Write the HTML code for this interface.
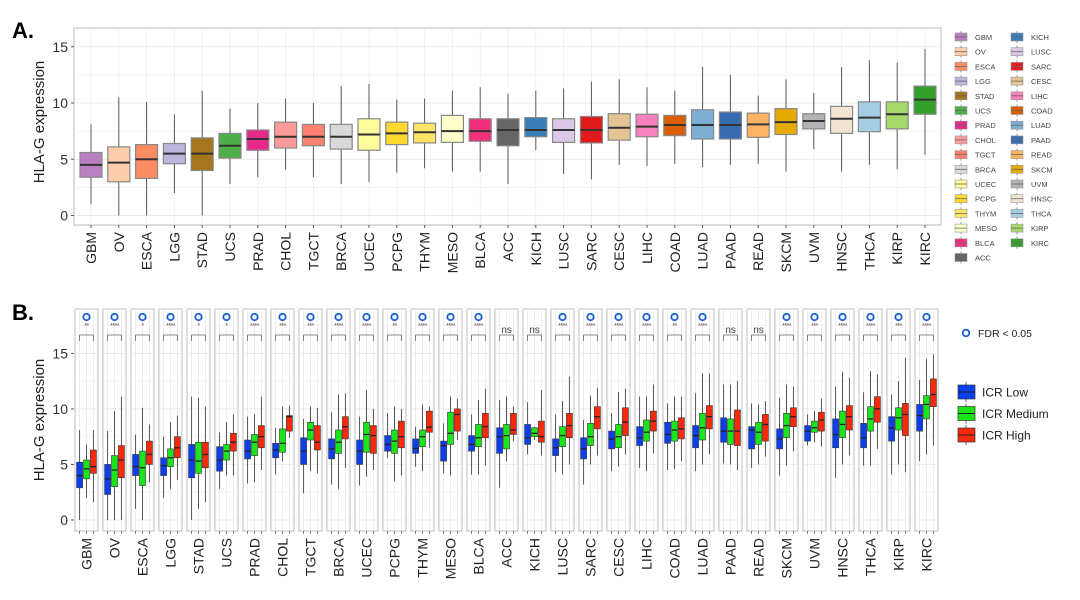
<!DOCTYPE html>
<html><head><meta charset="utf-8">
<style>
html,body{margin:0;padding:0;background:#fff;width:1080px;height:600px;overflow:hidden;font-family:"Liberation Sans",sans-serif;}
svg text{font-family:"Liberation Sans",sans-serif;}
</style></head>
<body>
<svg id="chart" width="1080" height="600" viewBox="0 0 1080 600">
<text x="12" y="38" font-size="22" font-weight="bold" fill="#000">A.</text>
<text x="12" y="320" font-size="22" font-weight="bold" fill="#000">B.</text>
<text transform="translate(44,122) rotate(-90)" text-anchor="middle" font-size="15" fill="#222">HLA-G expression</text>
<text transform="translate(44,420) rotate(-90)" text-anchor="middle" font-size="15" fill="#222">HLA-G expression</text>
<g id="gA"></g>
<g id="gB"></g>
<g id="legA"></g>
<g id="legB"></g>
</svg>
<script>
const categories = ["GBM","OV","ESCA","LGG","STAD","UCS","PRAD","CHOL","TGCT","BRCA","UCEC","PCPG","THYM","MESO","BLCA","ACC","KICH","LUSC","SARC","CESC","LIHC","COAD","LUAD","PAAD","READ","SKCM","UVM","HNSC","THCA","KIRP","KIRC"];
const catColors = ["#b97fc1","#fdcdac","#fc8d62","#bcb6dd","#a6761d","#4daf4a","#e7298a","#fb9a99","#fb8072","#d9d9d9","#fffa9c","#ffd92f","#ffe566","#ffffcc","#f0307a","#666666","#377eb8","#dcc8e6","#e31a1c","#e5c494","#f781bf","#d95f02","#7bafd4","#386cb0","#fdb462","#e6ab02","#b3b3b3","#f2e4d0","#a6cee3","#a6d96a","#33a02c"];
// panel A: [min, q1, median, q3, max]
const overallStats = [[1,3.4,4.5,5.6,8.1],[0,3.0,4.7,6.1,10.5],[0,3.3,5.0,6.3,10.1],[2,4.6,5.5,6.4,9.0],[0,4.0,5.5,6.9,11.1],[2.8,5.1,6.2,7.3,9.5],[3.4,5.8,6.8,7.6,10.0],[4.1,6.0,7.0,8.3,10.4],[3.4,6.2,7.0,8.1,10.0],[2.8,5.9,7.0,8.1,11.5],[3.0,5.8,7.2,8.6,11.7],[3.8,6.3,7.3,8.3,10.3],[4.2,6.45,7.4,8.2,10.4],[3.9,6.5,7.5,8.9,11.1],[3.9,6.6,7.5,8.6,11.4],[2.8,6.2,7.6,8.6,10.8],[5.8,7.0,7.6,8.7,11.1],[3.7,6.5,7.6,8.6,11.3],[3.2,6.45,7.6,8.8,11.9],[4.5,6.7,7.8,9.05,12.1],[4.4,7.0,7.9,9.0,11.4],[4.6,7.1,8.05,8.9,11.1],[4.3,6.8,8.05,9.4,13.2],[4.5,6.8,8.05,9.2,12.5],[4.6,6.95,8.1,9.1,10.65],[3.9,7.2,8.3,9.5,12.1],[5.9,7.7,8.4,9.05,10.9],[3.9,7.3,8.6,9.7,13.2],[4.5,7.45,8.7,10.1,13.8],[4.1,7.7,9.0,10.1,13.6],[5.4,9.0,10.3,11.5,14.8]];
// panel B groups
const icrLow = [[0,2.9,4.0,5.2,8.1],[0,2.3,3.7,5.0,8.0],[1,4.0,4.8,5.9,7.7],[2,4.0,4.9,5.6,7.5],[0,3.8,5.4,6.8,11.1],[2.8,4.4,5.4,6.6,7.9],[3.3,5.5,6.2,7.2,9.3],[4.1,5.6,6.3,6.9,8.3],[2.4,5.0,6.2,7.4,9.1],[3.2,5.5,6.4,7.3,9.7],[3.1,5.0,6.2,7.2,9.3],[5.6,6.2,6.8,7.6,9.6],[4.8,6.0,6.45,7.3,8.4],[4.2,5.3,6.7,7.1,8.7],[4.1,6.2,6.8,7.6,9.5],[2.9,6.0,7.5,8.3,10.8],[5.9,6.8,7.4,8.6,10.6],[4.3,5.8,6.5,7.3,9.5],[3.2,5.5,6.4,7.4,9.0],[4.4,6.4,7.3,8.0,9.6],[4.7,6.7,7.4,8.4,11.1],[4.5,6.9,7.7,8.8,10.5],[4.4,6.5,7.6,8.5,11.4],[5.1,7.0,8.0,9.2,12.2],[4.7,6.4,8.1,8.4,10.5],[4.0,6.4,7.3,8.2,11.0],[6.7,7.1,8.0,8.5,9.5],[3.8,6.5,7.7,9.1,12.0],[4.9,6.5,7.4,8.7,11.5],[4.1,7.1,8.3,9.3,11.3],[5.3,8.0,9.4,10.4,12.6]];
const icrMedium = [[2,3.7,4.6,5.4,6.8],[0,3.0,4.5,5.8,9.8],[0,3.1,4.7,6.2,10.1],[2.8,4.8,5.6,6.4,8.8],[1,4.2,5.3,7.0,11],[4,5.4,6.2,6.8,8.8],[3.4,5.8,7.0,7.7,9.5],[5.3,6.1,6.9,8.2,10.2],[4.4,7.2,8.1,8.8,10.2],[2.8,6.0,7.0,8.1,11.3],[3.9,6.1,7.7,8.8,11.7],[3.5,6.0,7.1,8.1,10.2],[4.4,6.6,7.5,8.1,10.4],[4.0,6.8,7.8,9.7,11.1],[4.1,6.6,7.4,8.6,10.8],[5.3,6.4,7.6,8.6,11.1],[7.2,7.5,7.8,8.3,8.4],[4.1,6.6,7.6,8.4,10.7],[5.0,6.7,7.5,8.7,11.2],[4.8,6.5,7.5,8.6,11.5],[4.4,7.1,7.9,9.0,11.1],[4.6,7.1,8.1,8.9,11.1],[5.0,7.2,8.3,9.6,13.2],[5.0,6.8,8.0,9.1,12.2],[5.0,6.8,7.9,8.8,10.4],[4.9,7.4,8.5,9.6,12.2],[7.0,7.9,8.3,8.9,9.8],[5.0,7.4,8.6,9.8,13.3],[4.9,8.0,9.1,10.2,13.4],[5.0,8.1,9.2,10.1,12.5],[5.9,9.1,10.4,11.2,14.5]];
const icrHigh = [[1.6,4.2,4.8,6.3,8.1],[0,3.8,5.4,6.7,11.1],[3.4,5.0,5.9,7.1,8.6],[3.6,5.6,6.5,7.5,9.4],[1.6,4.7,5.9,7.0,10.2],[4,6.2,7.0,7.8,9.5],[4.5,6.5,7.5,8.5,11.1],[7.4,8.0,9.3,9.4,10.3],[4.2,6.3,7.0,8.5,10.1],[4.7,7.3,8.4,9.3,11.4],[4.5,6.0,7.6,8.5,10.0],[4.0,6.5,7.5,8.9,10.0],[6.5,7.9,8.35,9.8,10.2],[7.2,8.0,9.5,10.0,10.9],[4.9,7.4,8.4,9.6,11.8],[7.1,7.7,8.1,9.6,10.2],[5.8,7.0,7.5,8.9,11.7],[5.0,7.4,8.5,9.6,12.9],[5.8,8.2,9.3,10.2,11.9],[5.9,7.6,8.8,10.1,11.8],[6.0,8.0,8.9,9.8,12.2],[5.3,7.3,8.2,9.2,11.1],[5.9,8.2,9.3,10.3,13.2],[4.5,6.7,8.0,9.9,12.5],[5.7,7.1,8.6,9.5,10.7],[6.2,8.4,9.3,10.1,12.0],[6.6,8.0,9.0,9.7,10.9],[5.8,8.1,9.3,10.3,12.8],[6.4,8.8,10.0,11.1,13.1],[4.3,7.6,9.5,10.5,14.6],[6.7,10.2,11.3,12.7,14.9]];
const signifLabels = ["**","****","*","****","*","*","****","***","***","****","****","**","****","****","****","ns","ns","****","****","****","****","**","****","ns","ns","****","***","****","****","***","****"];
const yTicks = [0,5,10,15];
const groupNames = ["ICR Low","ICR Medium","ICR High"];
const groupColors = ["#0a3ff0","#19e619","#f52a0a"];

const NS="http://www.w3.org/2000/svg";
function mk(tag,attrs,parent){const e=document.createElementNS(NS,tag);for(const k in attrs)e.setAttribute(k,attrs[k]);parent.appendChild(e);return e;}

// Panel A
const gA=document.getElementById('gA');
const A={x0:74,x1:941,y0:28,y1:225};
const yA=v=>215.5-v*11.25;
const xA=i=>91+i*27.8;
mk('rect',{x:A.x0,y:A.y0,width:A.x1-A.x0,height:A.y1-A.y0,fill:'#fff',stroke:'#b8b8c0','stroke-width':1},gA);
for(let v=2.5;v<=15;v+=5){mk('line',{x1:A.x0,x2:A.x1,y1:yA(v),y2:yA(v),stroke:'#f0f0f0','stroke-width':0.7},gA);}
yTicks.forEach(v=>{
 const l=mk('line',{x1:A.x0,x2:A.x1,y1:yA(v),y2:yA(v),stroke:'#e6e6e6','stroke-width':0.8},gA);
 
 
 mk('line',{x1:A.x0-3,x2:A.x0,y1:yA(v),y2:yA(v),stroke:'#555'},gA);
 const t=mk('text',{x:A.x0-6,y:yA(v)+5,'text-anchor':'end','font-size':14,fill:'#333'},gA);t.textContent=v;
 
 
});
categories.forEach((c,i)=>{
 const x=xA(i),s=overallStats[i],w=22;
 mk('line',{x1:x,x2:x,y1:A.y0,y2:A.y1,stroke:'#ececec','stroke-width':0.7},gA);
 const g=mk('g',{},gA);
 
 
 mk('line',{x1:x,x2:x,y1:yA(s[0]),y2:yA(s[4]),stroke:'#555','stroke-width':1},g);
 mk('rect',{x:x-w/2,y:yA(s[3]),width:w,height:yA(s[1])-yA(s[3]),fill:catColors[i],stroke:'#888','stroke-width':1.2},g);
 mk('line',{x1:x-w/2,x2:x+w/2,y1:yA(s[2]),y2:yA(s[2]),stroke:'#333','stroke-width':2},g);
 mk('line',{x1:x,x2:x,y1:A.y1,y2:A.y1+3,stroke:'#555'},gA);
 const t=mk('text',{transform:`translate(${x+5},${A.y1+7}) rotate(-90)`,'text-anchor':'end','font-size':14,fill:'#222'},gA);t.textContent=c;
 
 
});

// Legend A
const legA=document.getElementById('legA');
categories.forEach((c,i)=>{
 const col=i<16?0:1,row=i<16?i:i-16;
 const x=955+col*56,y=37+row*14.7;
 const g=mk('g',{},legA);
 
 
 mk('line',{x1:x+6,x2:x+6,y1:y-6,y2:y+6,stroke:'#777','stroke-width':0.8},g);
 mk('rect',{x:x,y:y-4,width:12,height:8,fill:catColors[i],stroke:'#999','stroke-width':0.6},g);
 mk('line',{x1:x,x2:x+12,y1:y,y2:y,stroke:'#666','stroke-width':0.8},g);
 const t=mk('text',{x:x+20,y:y+3,'font-size':7.5,fill:'#444'},g);t.textContent=c;
});

// Panel B
const gB=document.getElementById('gB');
const yB=v=>520-v*11.11;
const fx=i=>75+i*28;
const FW=23, facetTop=309, facetBot=531, offs=[4.6,11.5,18.4], bw=6;
yTicks.forEach(v=>{
 mk('line',{x1:71,x2:74,y1:yB(v),y2:yB(v),stroke:'#555'},gB);
 const t=mk('text',{x:68,y:yB(v)+5,'text-anchor':'end','font-size':14,fill:'#333'},gB);t.textContent=v;
 
 
});
const groups=[icrLow,icrMedium,icrHigh];
categories.forEach((c,i)=>{
 const x0=fx(i);
 const f=mk('g',{},gB);
 
 
 mk('rect',{x:x0,y:facetTop,width:FW,height:facetBot-facetTop,fill:'#fff',stroke:'#bdbdbd','stroke-width':1},f);
 for(let v=0;v<=17.5;v+=2.5){mk('line',{x1:x0,x2:x0+FW,y1:yB(v),y2:yB(v),stroke:v%5===0?'#e6e6e6':'#f2f2f2','stroke-width':0.7},f);}
 offs.forEach(o=>mk('line',{x1:x0+o,x2:x0+o,y1:facetTop,y2:facetBot,stroke:'#e6e6e6','stroke-width':0.7},f));
 groups.forEach((gr,k)=>{
  const s=gr[i],x=x0+offs[k];
  const g=mk('g',{},f);
  
  
  mk('line',{x1:x,x2:x,y1:yB(s[0]),y2:yB(s[4]),stroke:'#444','stroke-width':0.9},g);
  mk('rect',{x:x-bw/2,y:yB(s[3]),width:bw,height:yB(s[1])-yB(s[3]),fill:groupColors[k],stroke:'#333','stroke-width':0.6},g);
  mk('line',{x1:x-bw/2,x2:x+bw/2,y1:yB(s[2]),y2:yB(s[2]),stroke:'#222','stroke-width':1.3},g);
  mk('line',{x1:x,x2:x,y1:facetBot,y2:facetBot+3,stroke:'#666','stroke-width':0.8},f);
 });
 const sig=signifLabels[i];
 if(sig!=='ns'){
  const cc=mk('circle',{cx:x0+FW/2,cy:317,r:3.2,fill:'none',stroke:'#1f5fd6','stroke-width':1.8},f);
  
  
  const t=mk('text',{x:x0+FW/2,y:328,'text-anchor':'middle','font-size':7,fill:'#555','letter-spacing':'-0.5'},f);t.textContent=sig;
  
  
 } else {
  const t=mk('text',{x:x0+FW/2,y:333,'text-anchor':'middle','font-size':10,fill:'#444'},f);t.textContent=sig;
  
  
 }
 mk('path',{d:`M${x0+offs[0]} 341 V335 H${x0+offs[2]} V341`,fill:'none',stroke:'#666','stroke-width':0.8},f);
 const t=mk('text',{transform:`translate(${x0+FW/2+5},${facetBot+7}) rotate(-90)`,'text-anchor':'end','font-size':14,fill:'#222'},gB);t.textContent=c;
 
 
});

// Legend B
const legB=document.getElementById('legB');
const fc=mk('circle',{cx:966,cy:333,r:3.3,fill:'none',stroke:'#1f5fd6','stroke-width':1.8},legB);


const ft=mk('text',{x:978,y:337,'font-size':10.5,fill:'#222'},legB);ft.textContent='FDR < 0.05';


groupNames.forEach((n,k)=>{
 const y=392+k*21.5;
 const g=mk('g',{},legB);
 
 
 mk('line',{x1:966,x2:966,y1:y-10,y2:y+10,stroke:'#444','stroke-width':0.8},g);
 mk('rect',{x:958,y:y-7,width:17,height:14,fill:groupColors[k],stroke:'#333','stroke-width':0.7},g);
 mk('line',{x1:958,x2:975,y1:y,y2:y,stroke:'#222','stroke-width':1},g);
 const t=mk('text',{x:982,y:y+4.5,'font-size':12,fill:'#222'},g);t.textContent=n;
});
</script>
</body></html>
